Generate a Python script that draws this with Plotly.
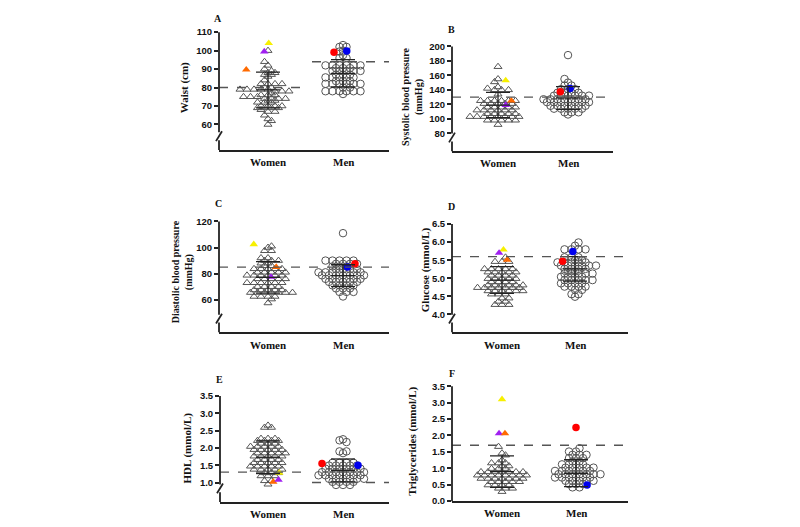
import math
import plotly.graph_objects as go

# ---------------- data ----------------
groups = ["Women", "Men"]

# A - waist (cm)
waist_women = [100, 94, 92, 90, 89, 88, 88, 87, 87, 86, 84, 82, 82, 82, 82, 80, 80,
               79, 79, 79, 79, 79, 78, 78, 78, 77, 76, 76, 76, 75, 75, 75, 74, 74, 74,
               74, 73, 73, 72, 72, 72, 70, 70, 70, 70, 69, 69, 69, 69, 68, 67, 67, 65,
               63, 62, 60]
waist_men = [103, 102, 102, 100, 99.5, 97.5, 96, 96, 92, 92, 92, 92, 92, 92, 90.5, 90.5,
             90.5, 89, 89, 89, 89, 89, 87, 87, 87, 85.5, 85.5, 85.5, 85.5, 85.5, 83.5,
             83.5, 83.5, 82, 82, 82, 82, 82, 82, 80, 80, 78, 78, 78, 78, 78, 78, 76.5]
waist_women_hl = [104, 99.5, 89.7]
waist_women_hl_dx = [0.01, -0.05, -0.29]
waist_men_hl = [99.1, 99.8]
waist_men_hl_dx = [-0.12, 0.05]
waist_mean = [78.7, 87.7]
waist_sd = [9.7, 7.4]
waist_cut = [80, 94]

# B - systolic blood pressure (mmHg)
sbp_women = [172, 155, 151, 144, 142, 140, 140, 140, 134, 125, 125, 125, 125, 125, 125,
             121, 121, 121, 121, 121, 116, 116, 116, 116, 116, 112, 112, 112, 112, 112,
             112, 107, 107, 107, 107, 107, 103, 103, 103, 103, 103, 103, 103, 103, 98, 98,
             98, 98, 98, 92]
sbp_men = [188, 155, 150, 146, 146, 141, 141, 141, 136, 136, 136, 136, 132, 132, 132, 132,
           132, 132, 127, 127, 127, 127, 127, 127, 127, 123, 123, 123, 123, 123, 123, 123,
           118, 118, 118, 118, 118, 118, 114, 114, 114, 114, 114, 109, 109, 109, 106]
sbp_women_hl = [153, 125, 119]
sbp_women_hl_dx = [0.11, 0.19, 0.11]
sbp_men_hl = [137.3, 142]
sbp_men_hl_dx = [-0.11, 0.03]
sbp_mean = [119, 128.8]
sbp_sd = [17.4, 15.8]
sbp_cut = [130, 130]

# C - diastolic blood pressure (mmHg)
dbp_women = [101, 100, 97.5, 97.5, 92, 92, 90, 90, 90, 88, 88, 86, 86, 83.7, 83.7, 83.7,
             83.7, 83.7, 81, 81, 81, 81, 81, 78.7, 78.7, 78.7, 78.7, 78.7, 78.7, 76, 76,
             76, 76, 76, 73, 73, 73, 73, 73, 73, 70, 70, 70, 70, 67.5, 67.5, 67.5, 67.5,
             67.5, 65.5, 65.5, 65.5, 65.5, 65.5, 65.5, 65.5, 62.5, 62.5, 62.5, 62.5, 60.5,
             57.5]
dbp_men = [111, 90, 90, 90, 90, 90, 87.5, 87.5, 87.5, 87.5, 85.5, 85.5, 85.5, 83.3, 83.3,
           83.3, 83.3, 81, 81, 81, 81, 81, 81, 81, 78.7, 78.7, 78.7, 78.7, 78.7, 78.7, 78.7,
           76, 76, 76, 76, 76, 76, 73.7, 73.7, 73.7, 73.7, 73.7, 71, 71, 71, 71, 68.7,
           68.7, 68.7, 66, 66, 66, 62.5]
dbp_women_hl = [102.5, 85, 77.5]
dbp_women_hl_dx = [-0.19, 0.11, 0.04]
dbp_men_hl = [87.5, 85]
dbp_men_hl_dx = [0.16, 0.06]
dbp_mean = [77.1, 78.4]
dbp_sd = [12.1, 8.4]
dbp_cut = [85, 85]

# D - glucose (mmol/L)
glu_women = [5.58, 5.46, 5.46, 5.46, 5.26, 5.26, 5.26, 5.26, 5.26, 5.17, 5.17, 5.17, 5.17,
             5.17, 5.08, 5.08, 5.08, 5.08, 4.99, 4.99, 4.99, 4.99, 4.99, 4.90, 4.90, 4.90,
             4.90, 4.81, 4.81, 4.81, 4.81, 4.81, 4.81, 4.74, 4.74, 4.74, 4.74, 4.74, 4.74,
             4.74, 4.65, 4.65, 4.65, 4.65, 4.65, 4.65, 4.56, 4.56, 4.56, 4.45, 4.45, 4.36,
             4.36, 4.27, 4.27, 4.27]
glu_men = [5.99, 5.90, 5.80, 5.80, 5.80, 5.80, 5.58, 5.58, 5.58, 5.50, 5.50, 5.44, 5.44,
           5.44, 5.44, 5.44, 5.35, 5.35, 5.35, 5.35, 5.35, 5.35, 5.26, 5.26, 5.26, 5.26,
           5.19, 5.19, 5.13, 5.13, 5.13, 5.13, 5.13, 5.04, 5.04, 5.04, 5.04, 4.95, 4.95,
           4.95, 4.95, 4.95, 4.86, 4.86, 4.86, 4.86, 4.77, 4.77, 4.77, 4.77, 4.68, 4.68,
           4.56, 4.56, 4.49]
glu_women_hl = [5.79, 5.70, 5.51]
glu_women_hl_dx = [0.02, -0.04, 0.07]
glu_men_hl = [5.47, 5.74]
glu_men_hl_dx = [-0.17, -0.03]
glu_mean = [4.95, 5.26]
glu_sd = [0.37, 0.34]
glu_cut = [5.6, 5.6]

# E - HDL (mmol/L)
hdl_women = [2.65, 2.59, 2.59, 2.27, 2.27, 2.27, 2.21, 2.21, 2.21, 2.21, 2.13,
             2.13, 2.13, 2.04, 2.04, 2.04, 2.04, 2.04, 1.95, 1.95, 1.95, 1.95, 1.95, 1.85,
             1.85, 1.85, 1.85, 1.85, 1.76, 1.76, 1.76, 1.76, 1.76, 1.66, 1.66, 1.66, 1.66,
             1.57, 1.57, 1.57, 1.57, 1.57, 1.47, 1.47, 1.47, 1.47, 1.47, 1.38, 1.38, 1.38,
             1.38, 1.38, 1.28, 1.28, 1.28, 1.19, 1.19, 1.19, 1.05, 1.05, 0.95]
hdl_men = [2.25, 2.22, 2.17, 1.90, 1.90, 1.85, 1.57, 1.57, 1.57, 1.57, 1.49, 1.49, 1.49,
           1.49, 1.49, 1.40, 1.40, 1.40, 1.40, 1.40, 1.40, 1.30, 1.30, 1.30, 1.30, 1.30,
           1.30, 1.30, 1.21, 1.21, 1.21, 1.21, 1.21, 1.21, 1.21, 1.11, 1.11, 1.11, 1.11,
           1.11, 1.11, 1.02, 1.02, 1.02, 1.02, 0.93, 0.93, 0.93]
hdl_women_hl = [1.28, 1.02, 1.08]
hdl_women_hl_dx = [0.15, 0.07, 0.14]
hdl_men_hl = [1.55, 1.50]
hdl_men_hl_dx = [-0.28, 0.20]
hdl_mean = [1.73, 1.35]
hdl_sd = [0.47, 0.33]
hdl_cut = [1.3, 1.0]

# F - triglycerides (mmol/L)
tg_women = [1.66, 1.46, 1.40, 1.25, 1.16, 1.16, 1.16, 1.07, 1.07, 0.99, 0.99, 0.99, 0.89,
            0.89, 0.89, 0.89, 0.89, 0.89, 0.89, 0.79, 0.79, 0.79, 0.79, 0.79, 0.79, 0.79,
            0.79, 0.69, 0.69, 0.69, 0.69, 0.69, 0.69, 0.69, 0.59, 0.59, 0.59, 0.59, 0.59,
            0.49, 0.49, 0.49, 0.49, 0.39, 0.39, 0.39, 0.29]
tg_men = [1.61, 1.51, 1.51, 1.41, 1.41, 1.41, 1.31, 1.31, 1.31, 1.21, 1.21, 1.12, 1.12,
          1.12, 1.12, 1.02, 1.02, 1.02, 1.02, 1.02, 0.92, 0.92, 0.92, 0.92, 0.92, 0.92,
          0.82, 0.82, 0.82, 0.82, 0.82, 0.82, 0.82, 0.72, 0.72, 0.72, 0.72, 0.72, 0.72,
          0.62, 0.62, 0.62, 0.62, 0.62, 0.52, 0.52, 0.52, 0.42, 0.42]
tg_women_hl = [3.10, 2.06, 2.06]
tg_women_hl_dx = [0.0, -0.04, 0.04]
tg_men_hl = [2.24, 0.49]
tg_men_hl_dx = [0.0, 0.15]
tg_mean = [0.90, 0.85]
tg_sd = [0.48, 0.41]
tg_cut = [1.7, 1.7]

YELLOW, PURPLE, ORANGE = "#f7f000", "#a020f0", "#ff6a00"
RED, BLUE = "#ff0000", "#0000ee"

# ---------------- panel geometry (pixels) ----------------
W, H = 800, 527
panels = [
    dict(letter="A", women=waist_women, men=waist_men,
         whl=waist_women_hl, whl_dx=waist_women_hl_dx, wcol=[YELLOW, PURPLE, ORANGE],
         mhl=waist_men_hl, mhl_dx=waist_men_hl_dx, mcol=[RED, BLUE],
         mean=waist_mean, sd=waist_sd, cut=waist_cut, split=True,
         xl=219, xr=389, cw=268, cm=343, ref=((110, 26.7), (60, 121)), ybot=147,
         ticks=[60, 70, 80, 90, 100, 110], fmt="{:.0f}", brk=True,
         title="Waist (cm)", tpos=(184, 84), tsize=11, lpos=(218, 13)),
    dict(letter="B", women=sbp_women, men=sbp_men,
         whl=sbp_women_hl, whl_dx=sbp_women_hl_dx, wcol=[YELLOW, ORANGE, PURPLE],
         mhl=sbp_men_hl, mhl_dx=sbp_men_hl_dx, mcol=[RED, BLUE],
         mean=sbp_mean, sd=sbp_sd, cut=sbp_cut, split=False,
         xl=452, xr=613, cw=498, cm=568, ref=((200, 41.3), (80, 130)), ybot=148.3,
         ticks=[80, 100, 120, 140, 160, 180, 200], fmt="{:.0f}", brk=True,
         title="Systolic blood pressure<br>(mmHg)", tpos=(412, 93), tsize=10, lpos=(452, 24)),
    dict(letter="C", women=dbp_women, men=dbp_men,
         whl=dbp_women_hl, whl_dx=dbp_women_hl_dx, wcol=[YELLOW, ORANGE, PURPLE],
         mhl=dbp_men_hl, mhl_dx=dbp_men_hl_dx, mcol=[RED, BLUE],
         mean=dbp_mean, sd=dbp_sd, cut=dbp_cut, split=False,
         xl=219, xr=389, cw=268, cm=343, ref=((120, 220), (60, 300)), ybot=333.3,
         ticks=[60, 80, 100, 120], fmt="{:.0f}", brk=True,
         title="Diastolic blood pressure<br>(mmHg)", tpos=(182, 272), tsize=10, lpos=(218, 202)),
    dict(letter="D", women=glu_women, men=glu_men,
         whl=glu_women_hl, whl_dx=glu_women_hl_dx, wcol=[YELLOW, PURPLE, ORANGE],
         mhl=glu_men_hl, mhl_dx=glu_men_hl_dx, mcol=[RED, BLUE],
         mean=glu_mean, sd=glu_sd, cut=glu_cut, split=False,
         xl=452, xr=628, cw=502, cm=575, ref=((6.5, 222.7), (4.0, 315)), ybot=333.3,
         ticks=[4.0, 4.5, 5.0, 5.5, 6.0, 6.5], fmt="{:.1f}", brk=True,
         title="Glucose (mmol/L)", tpos=(425, 270), tsize=11, lpos=(452, 205)),
    dict(letter="E", women=hdl_women, men=hdl_men,
         whl=hdl_women_hl, whl_dx=hdl_women_hl_dx, wcol=[YELLOW, ORANGE, PURPLE],
         mhl=hdl_men_hl, mhl_dx=hdl_men_hl_dx, mcol=[RED, BLUE],
         mean=hdl_mean, sd=hdl_sd, cut=hdl_cut, split=True,
         xl=220, xr=389, cw=268, cm=343, ref=((3.5, 398.3), (1.0, 486.7)), ybot=506.7,
         ticks=[1.0, 1.5, 2.0, 2.5, 3.0, 3.5], fmt="{:.1f}", brk=True,
         title="HDL (mmol/L)", tpos=(188, 452), tsize=11, lpos=(219, 381)),
    dict(letter="F", women=tg_women, men=tg_men,
         whl=tg_women_hl, whl_dx=tg_women_hl_dx, wcol=[YELLOW, PURPLE, ORANGE],
         mhl=tg_men_hl, mhl_dx=tg_men_hl_dx, mcol=[RED, BLUE],
         mean=tg_mean, sd=tg_sd, cut=tg_cut, split=False,
         xl=452, xr=628, cw=502, cm=576, ref=((3.5, 388.3), (0.0, 505.7)), ybot=505.7,
         ticks=[0.0, 0.5, 1.0, 1.5, 2.0, 2.5, 3.0, 3.5], fmt="{:.1f}", brk=False,
         title="Triglycerides (mmol/L)", tpos=(413, 445), tsize=11, lpos=(452, 375)),
]

ROW_H = 2.6   # px height of a row bin
STEP = 7.0    # px between neighbours in a row


def scatter_rows(values, ppu):
    """Prism-like column scatter: bin values into rows and spread each row"""
    bins = {}
    for i, v in enumerate(values):
        bins.setdefault(int(round(v * ppu / ROW_H)), []).append(i)
    offs = [0.0] * len(values)
    prev_key, prev_pos = None, []
    side = 1
    for key in sorted(bins):
        idx = bins[key]
        n = len(idx)
        pos = [(j - (n - 1) / 2) * STEP for j in range(n)]
        if prev_key is not None and key - prev_key <= 2 and \
                any(abs(a - b) < 1 for a in pos for b in prev_pos):
            pos = [q + side * STEP / 2 for q in pos]
            side = -side
        for j, i in enumerate(idx):
            offs[i] = pos[j]
        prev_key, prev_pos = key, pos
    return offs


def px2paper_x(px):
    return px / W


def px2paper_y(py):
    return 1 - py / H


fig = go.Figure()
shapes, annotations = [], []
serif = "Liberation Serif, Times New Roman, serif"
sans = "Liberation Sans, Arial, sans-serif"

for k, p in enumerate(panels, start=1):
    xa = "x" if k == 1 else f"x{k}"
    ya = "y" if k == 1 else f"y{k}"
    (v1, p1), (v2, p2) = p["ref"]
    ppu = (p2 - p1) / (v1 - v2)          # px per y unit
    pc = p["cm"] - p["cw"]               # px per category
    ybottom = v1 - (p["ybot"] - p1) / ppu
    xrange_ = [(p["xl"] - p["cw"]) / pc, (p["xr"] - p["cw"]) / pc]

    for g, (vals, hl, hl_dx, cols, sym) in enumerate([
            (p["women"], p["whl"], p["whl_dx"], p["wcol"], "triangle-up"),
            (p["men"], p["mhl"], p["mhl_dx"], p["mcol"], "circle")]):
        offs = scatter_rows(vals, ppu)
        fig.add_trace(go.Scatter(
            x=[g + o / pc for o in offs], y=vals, mode="markers", xaxis=xa, yaxis=ya,
            marker=dict(symbol=sym + "-open", size=7 if g == 0 else 7.5, color="#555555",
                        line=dict(width=1, color="#555555")),
            showlegend=False, cliponaxis=False, hoverinfo="y"))
        fig.add_trace(go.Scatter(
            x=[g + dx for dx in hl_dx], y=hl, mode="markers", xaxis=xa, yaxis=ya,
            marker=dict(symbol=sym, size=7.5, color=cols, line=dict(width=0)),
            showlegend=False, cliponaxis=False, hoverinfo="y"))

        # mean +/- SD
        m, s = p["mean"][g], p["sd"][g]
        hw = 12 / pc
        ex, ey = [], []
        for yy in (m - s, m, m + s):
            ex += [g - hw, g + hw, None]
            ey += [yy, yy, None]
        ex += [g, g]
        ey += [m - s, m + s]
        fig.add_trace(go.Scatter(x=ex, y=ey, mode="lines", xaxis=xa, yaxis=ya,
                                 line=dict(color="#222222", width=1.3),
                                 showlegend=False, hoverinfo="skip"))

        # group label under the axis
        annotations.append(dict(text=groups[g], showarrow=False, xref=xa, yref="paper",
                                x=g, y=px2paper_y(p["ybot"] + 12.5),
                                xanchor="center", yanchor="middle",
                                font=dict(family=serif, size=11, color="#111111", weight="bold")))

    # reference (cut-off) lines
    if p["split"]:
        segs = [(xrange_[0], 34 / pc, p["cut"][0]), (1 - 31 / pc, xrange_[1], p["cut"][1])]
    else:
        segs = [(xrange_[0], xrange_[1], p["cut"][0])]
    for x0, x1, yv in segs:
        shapes.append(dict(type="line", xref=xa, yref=ya, x0=x0, x1=x1, y0=yv, y1=yv,
                           line=dict(color="#555555", width=1.4, dash="dash"), layer="above"))

    # y axis line with break
    xl = px2paper_x(p["xl"])
    ytop = px2paper_y(p1)
    ybt = px2paper_y(p["ybot"])
    axl = dict(color="#222222", width=1.8)
    if p["brk"]:
        gtop = px2paper_y(p["ybot"] - 18)
        gbot = px2paper_y(p["ybot"] - 10)
        shapes.append(dict(type="line", xref="paper", yref="paper", x0=xl, x1=xl, y0=ytop, y1=gtop, line=axl))
        shapes.append(dict(type="line", xref="paper", yref="paper", x0=xl, x1=xl, y0=gbot, y1=ybt, line=axl))
        shapes.append(dict(type="line", xref="paper", yref="paper",
                           x0=px2paper_x(p["xl"] - 3), x1=px2paper_x(p["xl"] + 3),
                           y0=px2paper_y(p["ybot"] - 9), y1=px2paper_y(p["ybot"] - 19), line=axl))
    else:
        shapes.append(dict(type="line", xref="paper", yref="paper", x0=xl, x1=xl, y0=ytop, y1=ybt, line=axl))

    fig.update_layout(**{
        ("xaxis" if k == 1 else f"xaxis{k}"): dict(
            domain=[px2paper_x(p["xl"]), px2paper_x(p["xr"])], anchor=ya, range=xrange_,
            showline=True, linecolor="#222222", linewidth=2, ticks="", showgrid=False,
            zeroline=False, showticklabels=False),
        ("yaxis" if k == 1 else f"yaxis{k}"): dict(
            domain=[ybt, ytop], anchor=xa, range=[ybottom, v1],
            showline=False, ticks="outside", ticklen=4, tickwidth=1.5, tickcolor="#222222",
            showgrid=False, zeroline=False, tickvals=p["ticks"],
            ticktext=[p["fmt"].format(t) for t in p["ticks"]],
            tickfont=dict(family=sans, size=9.5, color="#111111", weight="bold")),
    })

    annotations.append(dict(text=p["title"], textangle=-90, showarrow=False,
                            xref="paper", yref="paper", xanchor="center", yanchor="middle",
                            x=px2paper_x(p["tpos"][0]), y=px2paper_y(p["tpos"][1]),
                            font=dict(family=serif, size=p["tsize"], color="#111111", weight="bold")))
    annotations.append(dict(text=p["letter"], showarrow=False, xref="paper", yref="paper",
                            xanchor="center", yanchor="middle",
                            x=px2paper_x(p["lpos"][0]), y=px2paper_y(p["lpos"][1]),
                            font=dict(family=serif, size=10, color="#111111", weight="bold")))

fig.update_layout(width=W, height=H, margin=dict(l=0, r=0, t=0, b=0),
                  plot_bgcolor="white", paper_bgcolor="white",
                  shapes=shapes, annotations=annotations, showlegend=False)

# no page margin, so the 800x527 figure fills the window exactly
fig.write_html("out.html", config={"displayModeBar": False},
               post_script="document.body.style.margin='0';document.body.style.overflow='hidden';")
